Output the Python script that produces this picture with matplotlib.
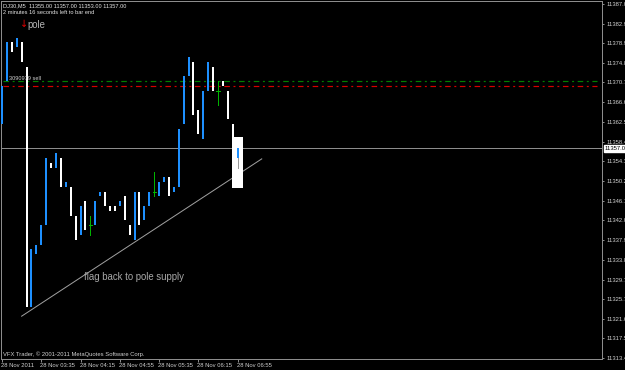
import matplotlib
matplotlib.use("Agg")
import matplotlib.pyplot as plt
import matplotlib.transforms as mtransforms
from matplotlib.patches import Rectangle

plt.rcParams['font.family'] = ['Liberation Sans', 'DejaVu Sans']
plt.rcParams['lines.scale_dashes'] = False

# ---------------- data ----------------
opens  = [11362, 11371, 11379, 11378, 11379, 11374, 11324, 11335, 11337, 11341,
          11354, 11353, 11355, 11349, 11349, 11343, 11339, 11346, 11341, 11341,
          11347, 11348, 11345, 11345, 11345, 11347, 11341, 11338, 11348, 11342,
          11345, 11348, 11347, 11350, 11351, 11348, 11349, 11362, 11372, 11375,
          11365, 11359, 11369, 11374, 11369, 11371, 11369, 11362, 11355]
closes = [11370, 11379, 11377, 11380, 11375, 11324, 11336, 11337, 11341, 11355,
          11353, 11356, 11349, 11350, 11343, 11338, 11345, 11340, 11341, 11346,
          11348, 11345, 11344, 11344, 11346, 11342, 11339, 11348, 11341, 11345,
          11348, 11348, 11350, 11351, 11347, 11349, 11361, 11372, 11376, 11364,
          11360, 11369, 11375, 11369, 11369, 11370, 11363, 11357, 11357]
highs  = [11370, 11379, 11379, 11380, 11379, 11374, 11336, 11337, 11341, 11355,
          11354, 11356, 11355, 11350, 11349, 11343, 11345, 11346, 11343, 11346,
          11348, 11348, 11345, 11345, 11346, 11347, 11341, 11348, 11348, 11345,
          11348, 11352, 11350, 11351, 11351, 11349, 11361, 11372, 11376, 11375,
          11365, 11369, 11375, 11374, 11371, 11371, 11369, 11362, 11357]
lows   = [11362, 11371, 11377, 11378, 11375, 11324, 11324, 11335, 11337, 11341,
          11353, 11353, 11349, 11349, 11343, 11338, 11339, 11340, 11339, 11341,
          11347, 11345, 11344, 11344, 11345, 11342, 11339, 11338, 11341, 11342,
          11345, 11347, 11347, 11350, 11347, 11348, 11349, 11362, 11372, 11364,
          11360, 11359, 11369, 11369, 11366, 11370, 11363, 11357, 11353]

xtick_pos = [0, 8, 16, 24, 32, 40, 48]
xtick_labels = ["28 Nov 2011", "28 Nov 03:35", "28 Nov 04:15", "28 Nov 04:55",
                "28 Nov 05:35", "28 Nov 06:15", "28 Nov 06:55"]
ytick_values = [11387.0, 11382.9, 11378.9, 11374.8, 11370.7, 11366.6, 11362.5,
                11358.4, 11354.3, 11350.2, 11346.1, 11342.0, 11337.9, 11333.8,
                11329.7, 11325.7, 11321.6, 11317.5, 11313.4]

bid_price = 11357.0
green_level = 11371.0
red_level = 11370.0
trend_x = [4.0, 52.9]
trend_y = [11322.1, 11354.8]
box_x = [46.9, 49.1]
box_y = [11348.8, 11359.3]

header1 = "DJ30,M5  11355.00 11357.00 11353.00 11357.00"
header2 = "2 minutes 16 seconds left to bar end"
footer = "VFX Trader, \u00a9 2001-2011 MetaQuotes Software Corp."
note = "flag back to pole supply"
order_label = "3090979 sell"

# ---------------- figure ----------------
W, H = 625, 370
fig = plt.figure(figsize=(W / 100, H / 100), dpi=100, facecolor="#000000")
ax = fig.add_axes([1 / W, (H - 359) / H, 601 / W, 358 / H], facecolor="#000000")
ax.set_xlim(-0.204, 122.2)
ax.set_ylim(11313.20, 11387.62)

PX = 0.72  # one pixel in points
BULL = "#1E90FF"
BEAR = "#FFFFFF"
DOJI = "#00B400"
GRID = "#8C8C8C"

for s in ax.spines.values():
    s.set_color(GRID)
    s.set_linewidth(PX)

# horizontal lines
ax.axhline(bid_price, color=GRID, lw=PX, zorder=1)
ax.axhline(green_level, xmin=0.003, xmax=0.992, color="#008000", lw=PX * 1.2,
           linestyle=(0, (4.0, 2.6, 1.4, 2.6)), zorder=1)
ax.axhline(red_level, xmin=0.003, xmax=0.992, color="#D40000", lw=PX * 1.2,
           linestyle=(0, (4.0, 2.6, 1.4, 2.6)), zorder=1)

# trend line
ax.plot(trend_x, trend_y, color="#A0A0A0", lw=PX, zorder=2)

# rectangle object
ax.add_patch(Rectangle((box_x[0], box_y[0]), box_x[1] - box_x[0], box_y[1] - box_y[0],
                       facecolor="#FFFFFF", edgecolor="none", zorder=3))

# candles
bw = 0.41
for i, (o, h, l, c) in enumerate(zip(opens, highs, lows, closes)):
    if c > o:
        col = BULL
    elif c < o:
        col = BEAR
    else:
        col = DOJI
    wick_col = DOJI if c == o else "#9A9A9A"
    if h > max(o, c) or l < min(o, c):
        ax.vlines(i, l, h, color=wick_col, lw=PX, zorder=4, antialiased=False)
    if c == o:
        ax.hlines(o, i - 0.33, i + 0.33, color=DOJI, lw=PX, zorder=5, antialiased=False)
    else:
        ax.bar(i, abs(c - o), bottom=min(o, c), width=bw, color=col,
               linewidth=0, zorder=5, antialiased=False)

# axes ticks
ax.yaxis.tick_right()
ax.set_yticks(ytick_values)
ax.set_yticklabels(["%.1f" % v for v in ytick_values])
ax.tick_params(axis="y", colors=GRID, labelcolor="#D0D0D0", labelsize=4.2,
               length=1.5, width=PX, pad=1.5, direction="out")
ax.set_xticks(xtick_pos)
ax.set_xticklabels(xtick_labels, ha="left")
ax.tick_params(axis="x", colors=GRID, labelcolor="#D0D0D0", labelsize=4.2,
               length=2, width=PX, pad=0.8, direction="out")
offset = mtransforms.ScaledTranslation(-1 / 100, 0, fig.dpi_scale_trans)
for lab in ax.get_xticklabels():
    lab.set_transform(lab.get_transform() + offset)

# current price box label
trans = mtransforms.blended_transform_factory(ax.transAxes, ax.transData)
ax.text(1.004, bid_price, "%.1f" % bid_price, transform=trans, fontsize=4.2,
        color="#000000", va="center", ha="left",
        bbox=dict(boxstyle="square,pad=0.15", facecolor="#FFFFFF", edgecolor="#FFFFFF"))


def ptext(x, y, s, **kw):
    fig.text(x / W, 1 - y / H, s, **kw)


ptext(3, 6, header1, fontsize=4.1, color="#E6E6E6", va="center", ha="left")
ptext(3, 12.7, header2, fontsize=4.1, color="#E6E6E6", va="center", ha="left")
ptext(19.5, 24, "\u2193", fontsize=7, color="#E00000", va="center", ha="left",
      family=["DejaVu Sans"])
ptext(27, 25, "pole", fontsize=6.9, color="#B4B4B4", va="center", ha="left")
ptext(9, 78, order_label, fontsize=4.1, color="#D0D0D0", va="center", ha="left")
ptext(84, 277, note, fontsize=6.9, color="#A8A8A8", va="center", ha="left")
ptext(3, 354, footer, fontsize=4.2, color="#D0D0D0", va="center", ha="left")

fig.savefig("out.png", dpi=100, facecolor="#000000")
